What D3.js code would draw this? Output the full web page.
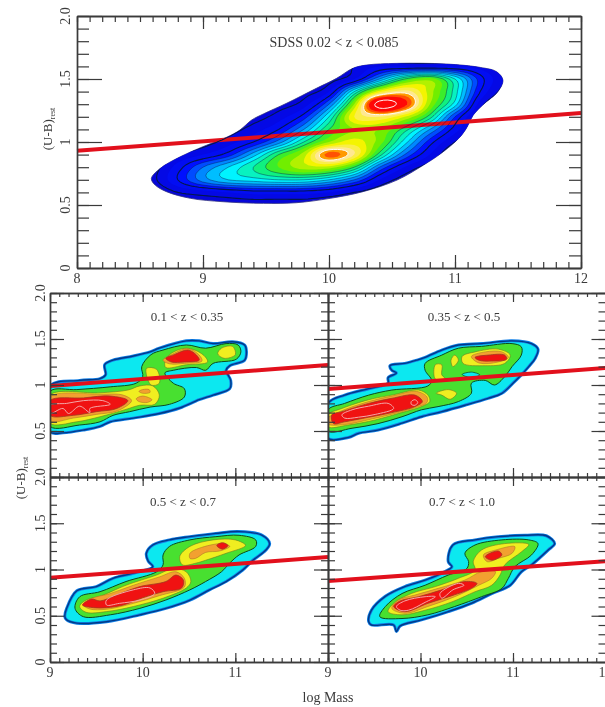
<!DOCTYPE html>
<html><head><meta charset="utf-8">
<script src="https://cdn.jsdelivr.net/npm/d3@7"></script>
<style>html,body{margin:0;padding:0;background:#fff;overflow:hidden}svg{display:block;filter:blur(0.55px)}</style>
</head><body><svg id="c" width="605" height="707"></svg>
<script>
// ---------- top panel data: density level read on a mass / colour grid ----------
const sdssMass=[8.4,8.6,8.8,9,9.2,9.4,9.6,9.8,10,10.2,10.4,10.6,10.8,11,11.2,11.4,11.6];
const sdssColour=[1.7,1.6,1.5,1.4,1.3,1.2,1.1,1,.9,.8,.7,.6,.5,.4];
const sdssDensity=[
[0,0,0,0,0,0,0,0,0,0,0,0,0,0,0,0,0],
[0,0,0,0,0,0,0,0,0,1,2,2,2,2,1.5,.5,0],
[0,0,0,0,0,0,0,0,.5,2,6,10,11.5,8,3.5,1,0],
[0,0,0,0,0,0,0,.5,2,8,13.5,15.5,12.5,8.5,3,.5,0],
[0,0,0,0,0,0,.5,1.5,5,12,21,18.5,12,7.5,1.5,0,0],
[0,0,0,0,0,.5,1.5,3.5,8,14,15,13,9.5,4,.5,0,0],
[0,0,0,0,.5,1.5,3,6,10,12,12,9.5,6,2.5,.5,0,0],
[0,0,0,.5,1.5,3,5.5,9,12,13.5,11.5,7.5,3.5,1,0,0,0],
[0,0,1,2,3.5,6.5,10,12.5,17.5,15,9.5,5,2,0,0,0,0],
[0,.5,2.5,5,7,9,11,12.5,12.5,10,5,2,.5,0,0,0,0],
[0,.7,3,5.5,7,7.5,8,8,7,5,2,.5,0,0,0,0,0],
[0,0,1,1.5,2,2.5,2.5,2.5,2,1,.3,0,0,0,0,0,0],
[0,0,0,.3,.3,.3,.3,.3,0,0,0,0,0,0,0,0,0],
[0,0,0,0,0,0,0,0,0,0,0,0,0,0,0,0,0]];
const sdssOutline=[[8.59,.71],[8.66,.79],[8.82,.883],[9,.963],[9.187,1.037],[9.293,1.095],[9.386,1.174],[9.478,1.222],[9.663,1.307],[9.9,1.426],[10.06,1.505],[10.19,1.585],[10.3,1.611],[10.54,1.624],[10.93,1.619],[11.2,1.592],[11.33,1.558],[11.38,1.492],[11.34,1.399],[11.22,1.294],[11.145,1.214],[11.09,1.108],[11.03,1.029],[10.89,.91],[10.75,.817],[10.54,.698],[10.27,.606],[10.01,.553],[9.74,.518],[9.48,.513],[9.16,.526],[8.9,.553],[8.71,.606],[8.62,.659]];
const sdssLevels=[1,2,3,4,5,6,7,8,9,10,11,12,13,14,15,16,17,18,19,20];
const levelStops=[0,3,5,7,9,10.5,13,15,16,18,20,22];
const levelColours=["#0606d8","#0010ff","#0088ff","#00f4ff","#10f080","#50ec00","#f4f400","#ffe890","#ff9a00","#ff0808","#ff0808","#ffffff"];
// ---------- red separation lines: colour at mass 8/9 and 12 ----------
const sdssLine=[[8,.93],[12,1.23]];
const z1Line=[[9,.99],[12,1.217]];
const z2Line=[[9,.957],[12,1.185]];
const z3Line=[[9,.91],[12,1.135]];
const z4Line=[[9,.875],[12,1.09]];
// ---------- 0.1<z<0.35 contours ----------
const z1Outline=[[9,.99],[9.32,1.05],[9.54,1.07],[9.6,1.11],[9.59,1.22],[9.68,1.27],[9.9,1.315],[10.08,1.36],[10.18,1.4],[10.47,1.48],[10.61,1.48],[10.76,1.45],[10.97,1.47],[11.1,1.435],[11.12,1.36],[11.1,1.27],[10.94,1.21],[10.9,1.16],[10.95,1.05],[10.94,.96],[10.76,.89],[10.61,.84],[10.4,.75],[10.18,.69],[9.9,.64],[9.65,.6],[9.54,.55],[9.36,.51],[9.14,.48],[9,.49]];
const z1Green=[[[9,.93],[9.29,.95],[9.65,.98],[9.93,1.02],[10,1.09],[9.99,1.2],[10.09,1.33],[10.22,1.38],[10.47,1.435],[10.68,1.4],[10.9,1.45],[11.03,1.435],[11.06,1.36],[11.01,1.28],[10.76,1.235],[10.68,1.16],[10.58,1.19],[10.33,1.16],[10.24,1.13],[10.33,1.02],[10.45,.96],[10.45,.87],[10.29,.79],[10.08,.76],[9.86,.71],[9.68,.67],[9.54,.6],[9.32,.565],[9,.55]]];
const z1Yellow=[[[9,.89],[9.54,.915],[9.84,.945],[9.97,.99],[10.11,.99],[10.18,.89],[10.13,.79],[9.97,.78],[9.82,.735],[9.54,.655],[9.29,.6],[9,.585]],
[[10.24,1.25],[10.29,1.33],[10.47,1.4],[10.65,1.33],[10.7,1.25],[10.47,1.22],[10.25,1.19]],
[[10.04,1.18],[10.15,1.17],[10.18,1.02],[10.09,1]],
[[10.85,1.4],[10.97,1.42],[11,1.33],[10.88,1.29],[10.81,1.34]]];
const z1Orange=[[[9,.87],[9.54,.9],[9.79,.89],[9.88,.83],[9.73,.72],[9.5,.68],[9.25,.64],[9,.61]],
[[10.22,1.27],[10.33,1.34],[10.49,1.395],[10.61,1.325],[10.64,1.26],[10.45,1.235],[10.29,1.23]],
[[9.96,.93],[10,.95],[10.07,.95],[10.08,.92],[10,.91]],
[[9.93,.85],[10,.88],[10.1,.84],[10.05,.81],[9.96,.82]]];
const z1Red=[[[9,.83],[9.36,.86],[9.65,.88],[9.84,.83],[9.72,.745],[9.5,.71],[9.25,.67],[9,.67]],
[[10.25,1.29],[10.34,1.33],[10.49,1.38],[10.58,1.325],[10.61,1.27],[10.45,1.25],[10.31,1.25]]];
const z1Pink=[[[9,.78],[9.18,.8],[9.36,.83],[9.57,.83],[9.65,.79],[9.43,.745],[9.43,.7],[9.32,.77],[9.2,.69],[9.14,.745],[9,.69]]];
const z1Holes=[];
// ---------- 0.35<z<0.5 contours ----------
const z2Outline=[[9,.8],[9.18,.89],[9.44,.96],[9.65,1.02],[9.65,1.08],[9.74,1.13],[9.69,1.16],[9.67,1.21],[9.83,1.235],[9.96,1.27],[10.05,1.3],[10.23,1.38],[10.41,1.435],[10.66,1.45],[10.99,1.48],[11.2,1.45],[11.27,1.39],[11.24,1.29],[11.17,1.2],[11.09,1.11],[11,1.02],[10.88,.91],[10.73,.855],[10.48,.78],[10.23,.71],[10.01,.655],[9.8,.585],[9.54,.51],[9.33,.475],[9.22,.43],[9,.42]];
const z2Green=[[[9,.73],[9.18,.8],[9.44,.89],[9.69,.945],[10.08,.99],[10.12,1.05],[10.05,1.16],[10.05,1.235],[10.23,1.325],[10.41,1.4],[10.66,1.42],[10.99,1.45],[11.09,1.415],[11.09,1.325],[10.99,1.2],[10.91,1.09],[10.8,1],[10.7,1.05],[10.55,1.02],[10.55,.91],[10.41,.82],[10.19,.765],[10.01,.73],[9.8,.655],[9.54,.58],[9.26,.53],[9,.5]]];
const z2Holes=[[[10.45,1.115],[10.55,1.14],[10.64,1.11],[10.55,1.08]]];
const z2Yellow=[[[10.45,1.31],[10.59,1.36],[10.84,1.39],[10.97,1.325],[10.91,1.235],[10.7,1.21],[10.46,1.235]],
[[10.16,1.22],[10.23,1.22],[10.23,1.11],[10.27,1.07],[10.16,1.065]],
[[10.33,1.27],[10.37,1.325],[10.41,1.27],[10.35,1.2]],
[[10.17,.91],[10.3,.95],[10.39,.91],[10.32,.845],[10.23,.89]],
[[9,.675],[9.15,.745],[9.44,.84],[9.69,.89],[9.98,.945],[10.08,.89],[10.1,.82],[10.01,.765],[9.76,.69],[9.51,.62],[9.22,.565],[9,.547]]];
const z2Orange=[[[9,.64],[9.15,.72],[9.44,.82],[9.69,.88],[9.96,.93],[10.07,.87],[10.07,.81],[9.98,.765],[9.72,.69],[9.47,.63],[9.18,.57],[9,.576]],
[[10.55,1.31],[10.7,1.36],[10.88,1.36],[10.95,1.3],[10.84,1.25],[10.63,1.24]]];
const z2Red=[[[9.04,.675],[9.15,.71],[9.44,.8],[9.69,.855],[9.94,.89],[10.02,.82],[9.94,.765],[9.69,.7],[9.44,.65],[9.18,.6],[9.06,.58]],
[[10.59,1.3],[10.73,1.325],[10.91,1.325],[10.93,1.28],[10.77,1.26],[10.63,1.27]]];
const z2Pink=[[[9.15,.675],[9.26,.73],[9.44,.77],[9.65,.8],[9.71,.745],[9.51,.68],[9.33,.65],[9.18,.64]],
[[9.9,.82],[9.94,.84],[9.97,.81],[9.94,.78],[9.9,.79]]];
// ---------- 0.5<z<0.7 contours ----------
const z3Outline=[[9.16,.49],[9.18,.58],[9.29,.77],[9.5,.815],[9.68,.905],[9.9,.96],[10.11,1.03],[10.06,1.09],[10.04,1.175],[10.11,1.265],[10.29,1.32],[10.51,1.355],[10.79,1.39],[11.04,1.41],[11.29,1.37],[11.37,1.28],[11.33,1.21],[11.19,1.1],[11.08,.995],[10.9,.87],[10.72,.78],[10.51,.67],[10.25,.58],[9.97,.51],[9.61,.435],[9.29,.42],[9.18,.455]];
const z3Green=[[[9.27,.58],[9.32,.705],[9.54,.76],[9.82,.87],[10.15,.975],[10.22,1.05],[10.22,1.157],[10.29,1.25],[10.51,1.32],[10.79,1.355],[11.04,1.37],[11.22,1.32],[11.22,1.25],[11.04,1.157],[10.94,1.07],[10.85,.975],[10.68,.87],[10.51,.78],[10.25,.67],[9.97,.58],[9.65,.51],[9.36,.49]]];
const z3Yellow=[[[9.32,.6],[9.39,.67],[9.54,.71],[9.82,.83],[10.15,.94],[10.33,1.01],[10.47,.975],[10.52,.87],[10.47,.8],[10.22,.69],[9.9,.6],[9.61,.545],[9.39,.537]],
[[10.4,1.14],[10.51,1.25],[10.76,1.32],[11,1.32],[11.11,1.26],[10.9,1.175],[10.68,1.1],[10.58,1.07],[10.43,1.05]]];
const z3Orange=[[[9.36,.615],[9.43,.68],[9.65,.74],[9.9,.83],[10.18,.92],[10.36,.975],[10.45,.905],[10.45,.81],[10.18,.717],[9.9,.634],[9.61,.57],[9.43,.573]],
[[10.51,1.175],[10.61,1.23],[10.86,1.28],[10.94,1.25],[10.83,1.2],[10.68,1.185],[10.57,1.12],[10.51,1.12]]];
const z3Red=[[[9.35,.616],[9.45,.68],[9.54,.66],[9.72,.725],[9.97,.815],[10.25,.87],[10.36,.94],[10.44,.885],[10.42,.8],[10.22,.76],[10,.695],[9.79,.616],[9.61,.587],[9.47,.587]],
[[10.8,1.26],[10.86,1.29],[10.92,1.26],[10.86,1.22]]];
const z3Pink=[[[9.61,.67],[9.9,.78],[10.08,.8],[10.13,.74],[9.97,.67],[9.75,.634],[9.61,.616]]];
// ---------- 0.7<z<1.0 contours ----------
const z4Outline=[[9.44,.435],[9.47,.56],[9.62,.71],[9.83,.815],[10.05,.885],[10.26,.975],[10.34,1.03],[10.3,1.085],[10.35,1.265],[10.59,1.32],[10.84,1.355],[11.13,1.37],[11.36,1.365],[11.45,1.28],[11.38,1.21],[11.2,1.05],[11.09,.975],[10.97,.83],[10.77,.74],[10.55,.635],[10.3,.545],[10.01,.455],[9.78,.39],[9.74,.33],[9.71,.4],[9.47,.4]];
const z4Green=[[[9.56,.49],[9.62,.6],[9.8,.74],[10.05,.83],[10.3,.94],[10.5,1.01],[10.52,1.085],[10.48,1.175],[10.59,1.265],[10.88,1.32],[11.17,1.32],[11.27,1.28],[11.2,1.157],[11.02,1.03],[10.95,.905],[10.88,.796],[10.66,.706],[10.37,.6],[10.08,.51],[9.8,.47]]];
const z4Yellow=[[[9.65,.544],[9.71,.634],[9.9,.74],[10.16,.815],[10.41,.905],[10.59,.995],[10.57,1.085],[10.66,1.21],[10.91,1.28],[11.17,1.27],[11.09,1.19],[10.91,1.05],[10.86,.94],[10.77,.83],[10.59,.76],[10.34,.65],[10.05,.56],[9.8,.51]]];
const z4Orange=[[[9.69,.58],[9.76,.67],[9.94,.724],[10.19,.796],[10.48,.886],[10.66,.977],[10.81,.977],[10.77,.905],[10.63,.83],[10.37,.706],[10.08,.6],[9.83,.526]],
[[10.68,1.157],[10.81,1.21],[11.02,1.247],[10.99,1.175],[10.84,1.12],[10.72,1.085]]];
const z4Red=[[[9.71,.6],[9.78,.66],[9.98,.706],[10.23,.78],[10.48,.87],[10.61,.85],[10.55,.796],[10.34,.717],[10.08,.634],[9.83,.544]],
[[10.7,1.14],[10.84,1.2],[10.88,1.157],[10.77,1.1]]];
const z4Pink=[[[9.74,.6],[9.83,.66],[10.05,.706],[10.16,.706],[10.05,.645],[9.87,.56],[9.78,.56]],
[[10.21,.74],[10.41,.85],[10.47,.83],[10.35,.78],[10.23,.69]]];
// ---------- axis labels ----------
const sdssMajorX=[8,9,10,11,12];
const lowMajorX=[9,10,11,12];
const leftPanelXLabels=[9,10,11];
const majorY=[0,.5,1,1.5,2];
const yLabels=["0","0.5","1","1.5","2.0"];
const titles=["SDSS 0.02 < z < 0.085","0.1 < z < 0.35","0.35 < z < 0.5","0.5 < z < 0.7","0.7 < z < 1.0"];

const svg=d3.select("#c");
const INK="#3a3a3a",FONT="'Liberation Serif',serif",LINE_RED="#e2101c";
const toPath=(x,y)=>d3.line().x(d=>x(d[0])).y(d=>y(d[1]));

function frame(g,x,y,majX,o){
  const w=x.range()[1],top=y.range()[1],bot=y.range()[0],left=x.range()[0];
  const minX=d3.range(Math.round(x.domain()[0]*10),Math.round(x.domain()[1]*10)+1).map(d=>d/10);
  const minY=d3.range(0,21).map(d=>d/10);
  const add=(axis,tf)=>{const a=g.append("g").attr("transform",tf).call(axis);
    a.selectAll("line").attr("stroke",INK).attr("stroke-width",1.2);
    a.select(".domain").attr("stroke",INK).attr("stroke-width",1.4);
    a.selectAll("text").remove();};
  add(d3.axisBottom(x).tickValues(minX).tickSize(-o.xMin).tickSizeOuter(0).tickFormat(""),`translate(0,${bot})`);
  add(d3.axisBottom(x).tickValues(majX).tickSize(-o.xMaj).tickSizeOuter(0).tickFormat(""),`translate(0,${bot})`);
  add(d3.axisTop(x).tickValues(minX).tickSize(-o.xMin).tickSizeOuter(0).tickFormat(""),`translate(0,${top})`);
  add(d3.axisTop(x).tickValues(majX).tickSize(-o.xMaj).tickSizeOuter(0).tickFormat(""),`translate(0,${top})`);
  add(d3.axisLeft(y).tickValues(minY).tickSize(-o.yMin).tickSizeOuter(0).tickFormat(""),`translate(${left},0)`);
  add(d3.axisLeft(y).tickValues(majorY).tickSize(-o.yMaj).tickSizeOuter(0).tickFormat(""),`translate(${left},0)`);
  add(d3.axisRight(y).tickValues(minY).tickSize(-o.yMin).tickSizeOuter(0).tickFormat(""),`translate(${w},0)`);
  add(d3.axisRight(y).tickValues(majorY).tickSize(-o.yMaj).tickSizeOuter(0).tickFormat(""),`translate(${w},0)`);
  if(o.xLabels) g.selectAll(null).data(o.xLabels).join("text").attr("x",d=>x(d)).attr("y",bot+15).attr("text-anchor","middle")
    .attr("font-family",FONT).attr("font-size",14).attr("fill",INK).text(d=>d);
  if(o.yLabelX) g.selectAll(null).data(o.yTicks).join("text")
    .attr("transform",d=>`translate(${o.yLabelX},${y(d)}) rotate(-90)`).attr("text-anchor","middle")
    .attr("font-family",FONT).attr("font-size",14).attr("fill",INK).text(d=>yLabels[majorY.indexOf(d)]);
}

// ---------- top panel ----------
const xTop=d3.scaleLinear([8,12],[77,581]),yTop=d3.scaleLinear([0,2],[268,16]);
const F=6,nx=sdssMass.length,ny=sdssColour.length,W=(nx-1)*F+1,H=(ny-1)*F+1;
function cub(a,b,c,d,t){return .5*(2*b+(c-a)*t+(2*a-5*b+4*c-d)*t*t+(3*b-a-3*c+d)*t*t*t);}
const at=(r,c)=>sdssDensity[Math.max(0,Math.min(ny-1,r))][Math.max(0,Math.min(nx-1,c))];
const fine=new Float64Array(W*H);
for(let j=0;j<H;j++)for(let i=0;i<W;i++){
  const r=Math.floor(j/F),c=Math.floor(i/F),tr=j/F-r,tc=i/F-c,col=[];
  for(let k=-1;k<3;k++)col.push(cub(at(r+k,c-1),at(r+k,c),at(r+k,c+1),at(r+k,c+2),tc));
  fine[j*W+i]=cub(col[0],col[1],col[2],col[3],tr);
}
const proj=d3.geoTransform({point(px,py){
  const m=sdssMass[0]+(px-.5)/F*(sdssMass[1]-sdssMass[0]);
  const u=sdssColour[0]+(py-.5)/F*(sdssColour[1]-sdssColour[0]);
  this.stream.point(xTop(m),yTop(u));}});
const geo=d3.geoPath(proj);
const bands=d3.contours().size([W,H]).thresholds(sdssLevels)(fine);
const colourOf=d3.scaleLinear(levelStops,levelColours);
svg.append("clipPath").attr("id","sdssClip").append("path").attr("d",toPath(xTop,yTop).curve(d3.curveCatmullRomClosed)(sdssOutline));
const gTop=svg.append("g");
gTop.append("path").attr("d",toPath(xTop,yTop).curve(d3.curveCatmullRomClosed)(sdssOutline)).attr("fill",colourOf(0)).attr("stroke","#303080").attr("stroke-width",.8);
const gF=gTop.append("g").attr("clip-path","url(#sdssClip)");
gF.selectAll("path").data(bands).join("path").attr("d",geo).attr("fill",d=>colourOf(d.value)).attr("fill-rule","evenodd");
gTop.append("path").attr("d",toPath(xTop,yTop)(sdssLine)).attr("stroke",LINE_RED).attr("stroke-width",4).attr("fill","none");
const gS=gTop.append("g").attr("clip-path","url(#sdssClip)");
const strokeLevels=bands.filter(d=>[1,3,4,5,6,7,8,9,10,16,20].includes(d.value));
gS.selectAll("path").data(strokeLevels).join("path").attr("d",geo).attr("fill","none")
  .attr("stroke",d=>d.value>=16?"#fff":"#04184c")
  .attr("stroke-opacity",d=>d.value>=16?.95:(d.value<=3?1:.65))
  .attr("stroke-width",d=>d.value>=16?1:(d.value<=3?1.1:.65));
frame(svg.append("g"),xTop,yTop,sdssMajorX,{xMin:6,xMaj:13,yMin:12,yMaj:25,xLabels:sdssMajorX,yLabelX:70,yTicks:majorY});
svg.append("text").attr("x",334).attr("y",47).attr("text-anchor","middle").attr("font-family",FONT).attr("font-size",14).attr("fill",INK).text(titles[0]);

// ---------- lower panels ----------
const panels=[
 {x:[50,328],y:[477,293],t:titles[1],tx:187,ty:321,line:z1Line,out:z1Outline,green:z1Green,holes:z1Holes,yellow:z1Yellow,orange:z1Orange,red:z1Red,pink:z1Pink,xL:null,yT:[.5,1,1.5,2],lx:45},
 {x:[328,605.5],y:[477,293],t:titles[2],tx:464,ty:321,line:z2Line,out:z2Outline,green:z2Green,holes:z2Holes,yellow:z2Yellow,orange:z2Orange,red:z2Red,pink:z2Pink,xL:null,yT:[],lx:0},
 {x:[50,328],y:[662,477],t:titles[3],tx:183,ty:506,line:z3Line,out:z3Outline,green:z3Green,holes:[],yellow:z3Yellow,orange:z3Orange,red:z3Red,pink:z3Pink,xL:leftPanelXLabels,yT:majorY,lx:45},
 {x:[328,605.5],y:[662,477],t:titles[4],tx:462,ty:506,line:z4Line,out:z4Outline,green:z4Green,holes:[],yellow:z4Yellow,orange:z4Orange,red:z4Red,pink:z4Pink,xL:lowMajorX,yT:[],lx:0}];
panels.forEach((p,i)=>{
  const x=d3.scaleLinear([9,12],p.x),y=d3.scaleLinear([0,2],p.y);
  const ring=toPath(x,y).curve(d3.curveCatmullRomClosed.alpha(.5));
  const id="pc"+i;
  svg.append("clipPath").attr("id",id).append("rect").attr("x",p.x[0]).attr("y",p.y[1]).attr("width",p.x[1]-p.x[0]).attr("height",p.y[0]-p.y[1]);
  const g=svg.append("g").attr("clip-path",`url(#${id})`);
  g.append("path").attr("d",ring(p.out)).attr("fill","#0ce8f0").attr("stroke","#1280e8").attr("stroke-width",3);
  g.append("path").attr("d",ring(p.out)).attr("fill","none").attr("stroke","#003a88").attr("stroke-width",1.4);
  const layer=(rings,fill,stroke,sw)=>g.selectAll(null).data(rings).join("path").attr("d",d=>ring(d)).attr("fill",fill).attr("stroke",stroke).attr("stroke-width",sw);
  layer(p.green,"#48e030","#0c4a20",1);
  layer(p.holes,"#0ce8f0","#0c4a20",.8);
  layer(p.yellow,"#f0ee20","#6a7a20",.6);
  layer(p.orange,"#f2a030","#a07020",.5);
  layer(p.red,"#f01212","#a03820",.8);
  layer(p.pink,"none","#f4a8a8",1);
  svg.append("path").attr("d",toPath(x,y)(p.line)).attr("stroke",LINE_RED).attr("stroke-width",4).attr("fill","none").attr("clip-path",`url(#${id})`);
  frame(svg.append("g"),x,y,lowMajorX,{xMin:4,xMaj:9,yMin:7,yMaj:14,xLabels:p.xL,yLabelX:p.lx,yTicks:p.yT});
  svg.append("text").attr("x",p.tx).attr("y",p.ty).attr("text-anchor","middle").attr("font-family",FONT).attr("font-size",13).attr("fill",INK).text(p.t);
});
// ---------- axis titles ----------
function ubTitle(px,py){
  const t=svg.append("text").attr("transform",`translate(${px},${py}) rotate(-90)`).attr("text-anchor","middle").attr("font-family",FONT).attr("font-size",13).attr("fill",INK);
  t.append("tspan").text("(U-B)");
  t.append("tspan").attr("font-size",8).attr("dy",3).text("rest");
}
ubTitle(52,129);ubTitle(25,478);
svg.append("text").attr("x",328).attr("y",702).attr("text-anchor","middle").attr("font-family",FONT).attr("font-size",14).attr("fill",INK).text("log Mass");
</script></body></html>
